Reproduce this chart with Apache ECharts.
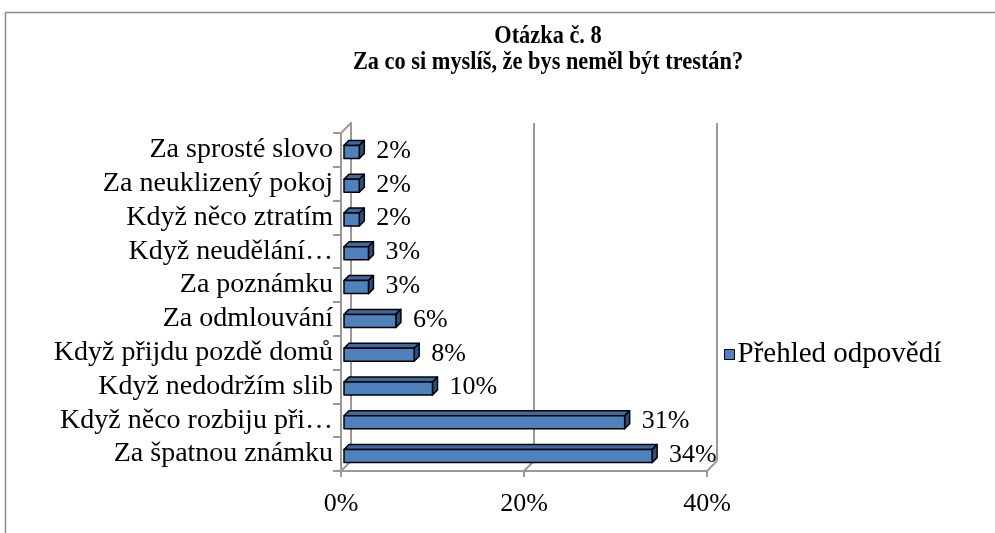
<!DOCTYPE html>
<html>
<head>
<meta charset="utf-8">
<script src="https://cdn.jsdelivr.net/npm/echarts@6/dist/echarts.min.js"></script>
<style>
  html, body { margin: 0; padding: 0; background: #fff; }
  #chart { width: 995px; height: 533px; }
</style>
</head>
<body>
<div id="chart"></div>
<script>
const categories = [
  'Za sprosté slovo',
  'Za neuklizený pokoj',
  'Když něco ztratím',
  'Když neudělání…',
  'Za poznámku',
  'Za odmlouvání',
  'Když přijdu pozdě domů',
  'Když nedodržím slib',
  'Když něco rozbiju při…',
  'Za špatnou známku'
]
const answers = [2, 2, 2, 3, 3, 6, 8, 10, 31, 34]
const xTicks = [0, 20, 40]
const titleLines = ['Otázka č. 8', 'Za co si myslíš, že bys neměl být trestán?']

const FONT = 'Liberation Serif'
const GRID_COLOR = '#999'
const BAR = '#4F81BD'
const DEPTH = 5

const chart = echarts.init(document.getElementById('chart'))

const option = {
  animation: false,
  backgroundColor: '#fff',
  legend: {
    data: ['Přehled odpovědí'],
    left: 719,
    top: 335,
    icon: 'rect',
    itemWidth: 10,
    itemHeight: 10,
    itemGap: 4,
    textStyle: { fontFamily: FONT, fontSize: 29, color: '#000', padding: [0, 0, 0, -2] },
    itemStyle: { color: BAR, borderColor: '#000', borderWidth: 1 }
  },
  grid: [
    // back wall
    { left: 351, top: 123, right: 278, bottom: 72 },
    // front
    { left: 341, top: 133, right: 288, bottom: 62 }
  ],
  xAxis: [
    {
      gridIndex: 0, type: 'value', min: 0, max: 40, interval: 20,
      axisLine: { show: false }, axisTick: { show: false }, axisLabel: { show: false },
      splitLine: { show: true, lineStyle: { color: GRID_COLOR, width: 2 } }
    },
    {
      gridIndex: 1, type: 'value', min: 0, max: 40, interval: 20,
      axisLine: { show: true, onZero: false, lineStyle: { color: GRID_COLOR, width: 2 } },
      axisTick: { show: true, length: 6, lineStyle: { color: GRID_COLOR, width: 2 } },
      splitLine: { show: false },
      axisLabel: {
        fontFamily: FONT, fontSize: 26, color: '#000', margin: 20,
        formatter: v => xTicks.includes(v) ? v + '%' : ''
      }
    }
  ],
  yAxis: [
    {
      gridIndex: 0, type: 'category', data: categories, inverse: true,
      axisLine: { show: true, lineStyle: { color: GRID_COLOR, width: 2 } },
      axisTick: { show: false }, axisLabel: { show: false }, splitLine: { show: false }
    },
    {
      gridIndex: 1, type: 'category', data: categories, inverse: true,
      axisLine: { show: true, lineStyle: { color: GRID_COLOR, width: 2 } },
      axisTick: { show: true, length: 8, lineStyle: { color: GRID_COLOR, width: 2 } },
      axisLabel: { interval: 0, fontFamily: FONT, fontSize: 28, color: '#000', margin: 8 }
    }
  ],
  graphic: [
    {
      type: 'text',
      x: 548,
      y: 23,
      scaleX: 0.86,
      silent: true,
      style: {
        text: titleLines.join('\n'),
        font: 'bold 26px "' + FONT + '"',
        lineHeight: 26,
        textAlign: 'center',
        fill: '#000'
      }
    },
    {
      type: 'rect',
      shape: { x: 5.5, y: 12.5, width: 1000, height: 540 },
      style: { fill: null, stroke: '#8c8c8c', lineWidth: 1.5 },
      silent: true
    }
  ],
  series: [
    {
      name: 'Přehled odpovědí',
      type: 'custom',
      xAxisIndex: 1,
      yAxisIndex: 1,
      itemStyle: { color: BAR },
      encode: { x: 0, y: 1 },
      data: answers.map((v, i) => [v, i]),
      renderItem(params, api) {
        const start = api.coord([0, api.value(1)])
        const end = api.coord([api.value(0), api.value(1)])
        const h = 13
        const d = DEPTH
        const x0 = start[0] + 3
        const x1 = end[0]
        const y0 = end[1] - h / 2 + 2
        const y1 = y0 + h
        const stroke = { stroke: '#000', lineWidth: 1.5, lineJoin: 'round' }
        return {
          type: 'group',
          children: [
            {
              type: 'polygon',
              shape: { points: [[x0, y0], [x0 + d, y0 - d], [x1 + d, y0 - d], [x1, y0]] },
              style: Object.assign({ fill: '#3d6aa0' }, stroke)
            },
            {
              type: 'polygon',
              shape: { points: [[x1, y0], [x1 + d, y0 - d], [x1 + d, y1 - d], [x1, y1]] },
              style: Object.assign({ fill: '#2b4f7e' }, stroke)
            },
            {
              type: 'rect',
              shape: { x: x0, y: y0, width: x1 - x0, height: h },
              style: Object.assign({ fill: BAR }, stroke)
            },
            {
              type: 'text',
              x: x1 + d + 12,
              y: (y0 + y1) / 2 - 1,
              style: {
                text: api.value(0) + '%',
                font: '26px "' + FONT + '"',
                fill: '#000',
                textVerticalAlign: 'middle'
              }
            }
          ]
        }
      }
    }
  ]
}

chart.setOption(option)

// connecting lines between front and back walls of the 3D frame
const seg = (a, b) => ({
  type: 'line',
  shape: { x1: a[0], y1: a[1], x2: b[0], y2: b[1] },
  style: { stroke: GRID_COLOR, lineWidth: 2 },
  silent: true
})
const frame = option.graphic.slice()
xTicks.forEach(t => {
  const f = chart.convertToPixel({ xAxisIndex: 1 }, t)
  const b = chart.convertToPixel({ xAxisIndex: 0 }, t)
  frame.push(seg([f, 471], [b, 461]))
})
frame.push(seg([341, 133], [351, 123]))
chart.setOption({ graphic: frame })

window.addEventListener('resize', () => chart.resize())
</script>
</body>
</html>
